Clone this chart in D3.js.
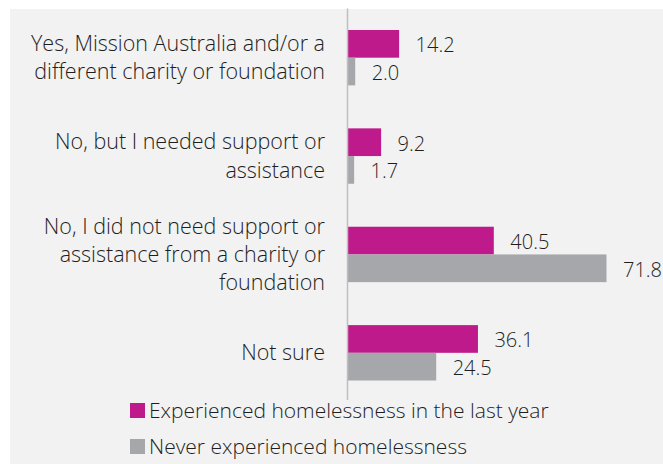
<!DOCTYPE html>
<html>
<head>
<meta charset="utf-8">
<script src="https://cdn.jsdelivr.net/npm/d3@7"></script>
<style>
  html, body { margin: 0; padding: 0; background: #ffffff; }
  svg { display: block; }
  text { font-family: "Open Sans", Lato, sans-serif; font-weight: 300; fill: #1e1e1e; }
</style>
</head>
<body>
<svg id="chart" width="663" height="464"></svg>
<script>
// Survey responses: whether support was sought from a charity or foundation (%)
const categories = [
  "Yes, Mission Australia and/or a different charity or foundation",
  "No, but I needed support or assistance",
  "No, I did not need support or assistance from a charity or foundation",
  "Not sure"
];
// Manual line breaks for the category labels
const categoryLines = [
  ["Yes, Mission Australia and/or a", "different charity or foundation"],
  ["No, but I needed support or", "assistance"],
  ["No, I did not need support or", "assistance from a charity or", "foundation"],
  ["Not sure"]
];
const seriesNames = [
  "Experienced homelessness in the last year",
  "Never experienced homelessness"
];
const experiencedValues = [14.2, 9.2, 40.5, 36.1];
const neverValues = [2.0, 1.7, 71.8, 24.5];
const seriesColors = ["#BF1A8B", "#A6A7AB"];

const svg = d3.select("#chart");
const W = 663, H = 464;

// light panel behind the chart
svg.append("rect")
  .attr("x", 10).attr("y", 9)
  .attr("width", W - 10).attr("height", H - 9)
  .attr("fill", "#f2f2f2");

const plot = { left: 348, top: 8.5, bottom: 402 };

const x = d3.scaleLinear().domain([0, 80]).range([plot.left, plot.left + 288]);
const y = d3.scaleBand().domain(categories).range([plot.top, plot.bottom]).padding(0);
const ySub = d3.scaleBand().domain(seriesNames).range([0, y.bandwidth()])
  .paddingInner(0).paddingOuter(0.776);

const seriesData = [experiencedValues, neverValues];

// bars
seriesNames.forEach((name, si) => {
  const g = svg.append("g");
  g.selectAll("rect")
    .data(categories.map((c, i) => ({ c, v: seriesData[si][i] })))
    .join("rect")
    .attr("x", x(0))
    .attr("y", d => y(d.c) + ySub(name))
    .attr("width", d => x(d.v) - x(0))
    .attr("height", ySub.bandwidth())
    .attr("fill", seriesColors[si]);

  g.selectAll("text")
    .data(categories.map((c, i) => ({ c, v: seriesData[si][i] })))
    .join("text")
    .attr("x", d => x(d.v) + 16.5)
    .attr("y", d => y(d.c) + ySub(name) + ySub.bandwidth() / 2 + 8.5)
    .attr("font-size", 20)
    .text(d => d.v.toFixed(1));
});

// vertical category axis line
svg.append("line")
  .attr("x1", plot.left - 0.5).attr("x2", plot.left - 0.5)
  .attr("y1", plot.top).attr("y2", plot.bottom - 2)
  .attr("stroke", "#bfbfbf").attr("stroke-width", 1.5);

// category labels, right aligned
const lineH = 28.3;
categories.forEach((c, i) => {
  const lines = categoryLines[i];
  const cy = y(c) + y.bandwidth() / 2;
  const t = svg.append("text")
    .attr("text-anchor", "end")
    .attr("font-size", 21.5);
  lines.forEach((ln, k) => {
    t.append("tspan")
      .attr("x", 325)
      .attr("y", cy + (k - (lines.length - 1) / 2) * lineH + 7.5)
      .text(ln);
  });
});

// legend
const legend = svg.append("g");
seriesNames.forEach((name, si) => {
  const top = 403 + si * 36;
  legend.append("rect")
    .attr("x", 130).attr("y", top)
    .attr("width", 15).attr("height", 15)
    .attr("fill", seriesColors[si]);
  legend.append("text")
    .attr("x", 149).attr("y", top + 14.5)
    .attr("font-size", 21)
    .text(name);
});
</script>
</body>
</html>
